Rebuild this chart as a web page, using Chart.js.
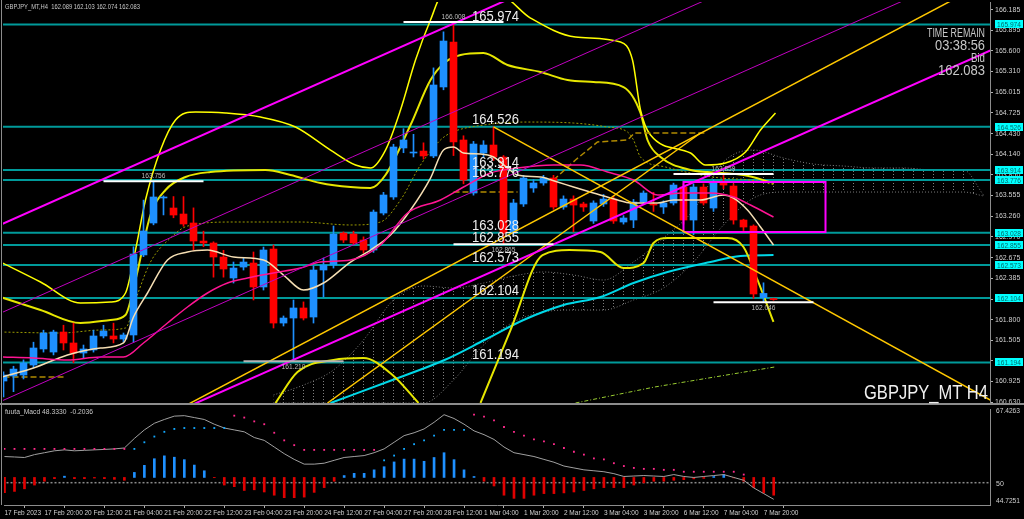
<!DOCTYPE html>
<html>
<head>
<meta charset="utf-8">
<script src="https://cdn.jsdelivr.net/npm/chart.js@4.4.0/dist/chart.umd.min.js"></script>
<style>
html, body { margin: 0; padding: 0; background: #000; }
#wrap { position: relative; width: 1024px; height: 519px; background: #000; overflow: hidden; }
canvas { position: absolute; left: 0; }
#main { top: 0; }
#sub { top: 405px; }
</style>
</head>
<body>
<div id="wrap">
<canvas id="main" width="1024" height="405"></canvas>
<canvas id="sub" width="1024" height="114"></canvas>
</div>
<script>
// price window and scale labels
const priceMin = 160.620;
const priceMax = 166.292;
const priceTicks = [166.185, 165.895, 165.600, 165.310, 165.015, 164.725, 164.430, 164.140, 163.850, 163.555,
  163.260, 162.970, 162.675, 162.385, 162.090, 161.800, 161.505, 161.215, 160.925, 160.630];
const levelPrices = [165.974, 164.526, 163.914, 163.776, 163.028, 162.855, 162.573, 162.104, 161.194];

const dateBars = [0, 4, 8, 12, 16, 20, 24, 28, 32, 36, 40, 44, 48, 52, 56, 60, 64, 68, 72, 76];
const dateLabels = ['17 Feb 2023', '17 Feb 20:00', '20 Feb 12:00', '21 Feb 04:00', '21 Feb 20:00', '22 Feb 12:00',
  '23 Feb 04:00', '23 Feb 20:00', '24 Feb 12:00', '27 Feb 04:00', '27 Feb 20:00', '28 Feb 12:00', '1 Mar 04:00',
  '1 Mar 20:00', '2 Mar 12:00', '3 Mar 04:00', '3 Mar 20:00', '6 Mar 12:00', '7 Mar 04:00', '7 Mar 20:00'];

// H4 candles, 17 Feb 04:00 .. 8 Mar 00:00
const opens = [160.931, 161.002, 161.016, 161.157, 161.384, 161.341, 161.624, 161.469, 161.327, 161.370,
  161.568, 161.568, 161.525, 161.582, 162.714, 163.166, 163.520, 163.378, 163.293, 163.166,
  162.911, 162.883, 162.685, 162.388, 162.543, 162.600, 162.261, 162.798, 161.751, 161.822,
  161.964, 161.836, 162.501, 162.572, 163.024, 163.010, 162.925, 162.784, 163.307, 163.534,
  164.227, 164.156, 164.184, 164.114, 165.090, 165.726, 164.340, 163.590, 164.156, 164.269,
  164.099, 163.024, 163.435, 163.661, 163.732, 163.802, 163.392, 163.505, 163.435, 163.194,
  163.435, 163.505, 163.180, 163.208, 163.463, 163.435, 163.392, 163.449, 163.675, 163.208,
  163.675, 163.378, 163.746, 163.689, 163.208, 163.123, 162.110, 162.089];
const highs = [161.060, 161.140, 161.230, 161.480, 161.650, 161.650, 161.720, 161.750, 161.440, 161.650,
  161.720, 161.750, 161.610, 162.830, 163.490, 163.756, 163.550, 163.540, 163.540, 163.380,
  163.050, 162.900, 162.780, 162.614, 162.671, 162.756, 162.826, 162.855, 161.851, 162.077,
  162.050, 162.558, 162.671, 163.123, 163.040, 163.050, 162.970, 163.350, 163.600, 164.280,
  164.500, 164.420, 164.300, 165.360, 165.870, 166.008, 164.400, 164.320, 164.330, 164.526,
  164.120, 163.500, 163.840, 163.780, 163.840, 163.840, 163.550, 163.550, 163.460, 163.480,
  163.570, 163.550, 163.270, 163.500, 163.620, 163.600, 163.480, 163.730, 163.720, 163.720,
  163.720, 163.780, 163.859, 163.720, 163.220, 163.140, 162.320, 162.103];
const lows = [160.705, 160.780, 160.960, 161.120, 161.340, 161.300, 161.370, 161.190, 161.260, 161.340,
  161.540, 161.470, 161.480, 161.480, 162.690, 163.140, 163.280, 163.240, 163.120, 162.780,
  162.830, 162.400, 162.400, 162.317, 162.501, 162.077, 162.218, 161.681, 161.709, 161.210,
  161.794, 161.751, 162.119, 162.529, 162.890, 162.860, 162.740, 162.750, 163.280, 163.500,
  164.160, 164.100, 164.070, 164.090, 165.050, 164.120, 163.720, 163.560, 164.100, 164.050,
  162.865, 162.990, 163.400, 163.600, 163.700, 163.360, 163.360, 163.040, 163.330, 163.160,
  163.400, 163.160, 163.150, 163.100, 163.440, 163.330, 163.300, 163.420, 163.150, 163.000,
  163.420, 163.330, 163.650, 163.150, 163.060, 162.100, 162.046, 162.074];
const closes = [161.016, 161.100, 161.186, 161.398, 161.610, 161.624, 161.469, 161.327, 161.384, 161.568,
  161.638, 161.525, 161.582, 162.727, 163.053, 163.534, 163.534, 163.279, 163.152, 162.911,
  162.883, 162.685, 162.515, 162.529, 162.614, 162.261, 162.784, 161.751, 161.822, 161.964,
  161.822, 162.501, 162.572, 163.010, 162.925, 162.883, 162.784, 163.321, 163.562, 164.241,
  164.340, 164.170, 164.114, 165.118, 165.740, 164.312, 163.774, 164.283, 164.269, 164.099,
  163.024, 163.449, 163.802, 163.732, 163.802, 163.392, 163.505, 163.420, 163.392, 163.449,
  163.505, 163.194, 163.237, 163.463, 163.590, 163.420, 163.449, 163.703, 163.208, 163.675,
  163.449, 163.732, 163.703, 163.208, 163.109, 162.162, 162.170, 162.083];

// swing high / low marks
const pivotBars = [15, 45, 29, 50, 72, 76];
const pivotPrices = [163.756, 166.008, 161.210, 162.865, 163.859, 162.046];
const pivotKinds = ['high', 'high', 'low', 'low', 'high', 'low'];

// trend lines as [bar, price] anchors
const channelTop = [[-2, 163.034], [60, 166.928]];
const channelMid1 = [[-2, 161.784], [80, 166.934]];
const channelMid2 = [[-2, 160.534], [100, 166.940]];
const channelLow = [[15, 160.352], [100, 165.690]];
const goldUp1 = [[15, 160.343], [95, 166.327]];
const goldUp2 = [[32.4, 160.620], [69.7, 164.439]];
const goldDown = [[49, 164.526], [100, 160.558]];
const boxBars = [68, 82.2];
const boxPrices = [163.039, 163.746];

// indicator curves as [bar, price]
const maWhite = [[-0.1, 160.988], [3, 161.115], [6.4, 161.299], [9.7, 161.398], [12, 161.469], [13, 161.836],
  [14.4, 162.176], [16.4, 162.643], [18.4, 162.756], [20.4, 162.784], [23, 162.685], [26, 162.643], [28, 162.430],
  [30, 162.218], [32, 162.317], [34.7, 162.614], [36.7, 162.784], [38.7, 162.996], [40.7, 163.350], [42.7, 163.802],
  [44, 164.198], [45, 164.241], [46, 164.156], [47.7, 164.142], [49, 164.099], [50.4, 163.944], [51.4, 163.845],
  [53.7, 163.817], [55.4, 163.746], [57, 163.675], [59, 163.590], [61.4, 163.491], [62.7, 163.449], [65.4, 163.449],
  [67, 163.491], [69.7, 163.491], [72, 163.562], [73, 163.519], [74.4, 163.350], [75.7, 163.109], [77, 162.855]];
const maPink = [[-0.1, 161.271], [3, 161.257], [6.4, 161.228], [9.7, 161.271], [12, 161.271], [14, 161.469],
  [16.4, 161.751], [18.4, 161.978], [20.4, 162.176], [22.4, 162.317], [24.4, 162.388], [27, 162.459], [29.7, 162.529],
  [31.7, 162.614], [34.7, 162.643], [37.7, 162.855], [40.4, 163.307], [43.7, 163.491], [46, 163.675], [48.7, 163.873],
  [51.4, 163.944], [55, 163.986], [57.7, 163.986], [60.4, 163.887], [63, 163.774], [65.4, 163.562], [68, 163.590],
  [70.7, 163.590], [73, 163.534], [74.7, 163.420], [77, 163.251]];
const maCyan = [[32.7, 160.620], [38.9, 160.945], [44.1, 161.228], [48.1, 161.511], [52, 161.794], [56, 162.006],
  [59.7, 162.119], [63, 162.317], [66.4, 162.473], [70.7, 162.614], [73.7, 162.699], [77, 162.713]];
const maGreen = [[57.2, 160.620], [65.1, 160.846], [77.1, 161.129]];
const bandUpper3 = [[-0.3, 162.614], [3.7, 162.331], [7.7, 162.034], [10.7, 162.048], [12.2, 162.176], [13.2, 162.784],
  [14.2, 163.491], [15.7, 164.198], [17.2, 164.623], [19.2, 164.736], [22.2, 164.722], [25.7, 164.665], [29.2, 164.524],
  [32.7, 164.198], [35.2, 163.986], [36.7, 163.944], [38.2, 164.198], [39.7, 164.764], [41.2, 165.471], [42.7, 166.037],
  [43.9, 166.391], [49.5, 166.391], [52.7, 166.065], [57.2, 165.797], [61.7, 165.726], [62.9, 165.471], [63.7, 164.764],
  [64.7, 164.411], [68.7, 164.156], [70.2, 163.986], [72.2, 164.014], [74.2, 164.170], [75.7, 164.481], [77.2, 164.722]];
const bandUpper2 = [[-0.3, 162.119], [3.7, 161.935], [7.7, 161.751], [10.7, 161.794], [12.2, 161.865], [13.2, 162.360],
  [14.7, 163.279], [16.2, 163.633], [18.2, 163.817], [20.7, 163.887], [26.2, 163.916], [28.7, 163.845], [31.7, 163.732],
  [34.7, 163.675], [36.7, 163.661], [38.2, 163.845], [40.7, 164.552], [42.7, 165.188], [44.2, 165.443], [45.7, 165.542],
  [48, 165.570], [50.4, 165.401], [53.7, 165.302], [56.4, 165.188], [59, 165.160], [62, 165.089], [63.7, 164.722],
  [64.4, 164.340], [65.7, 164.099], [68.7, 163.916], [70.4, 163.887], [74, 163.845], [77, 163.732]];
const bandUpper1 = [[-0.3, 161.624], [5.7, 161.610], [9.7, 161.652], [12.2, 161.681], [13.2, 162.077], [14.7, 162.614],
  [16.7, 162.954], [18.4, 163.123], [23, 163.180], [29.7, 163.180], [34.7, 163.138], [37.7, 163.180], [39.7, 163.491],
  [41.7, 163.986], [43.7, 164.340], [44.7, 164.439], [48, 164.552], [52.4, 164.594], [57, 164.580], [60.4, 164.524],
  [62.4, 164.453], [63, 164.340], [63.7, 164.099], [66.2, 163.958], [68.7, 163.873], [71.7, 163.802], [74.7, 163.774],
  [77.2, 163.703]];
const bandLower = [[27.2, 160.620], [29.4, 161.058], [33, 161.228], [36, 161.256], [38.9, 161.016], [41.5, 160.620],
  [44, null], [47.7, 160.620], [50.7, 161.652], [53.9, 162.713], [56.6, 162.784], [59.7, 162.756], [62, 162.529],
  [64, 162.600], [65, 162.883], [66.4, 162.954], [69.4, 162.954], [72.4, 162.954], [74, 162.826], [75.4, 162.360],
  [77, 161.766]];
const kijun = [[0, 160.988], [6.2, 160.988], [7, null], [45, 163.604], [51.4, 163.604], [53, null],
  [55, 163.774], [57.2, 164.057], [59.4, 164.312], [62.4, 164.340], [63.1, 164.439], [70.3, 164.439]];

// ichimoku cloud edges
const cloudBars = [27, 30, 33, 36, 39, 42, 45, 48, 51, 54, 57, 60, 63, 66, 69, 72, 75, 78, 81, 84, 87, 90, 93, 96, 98];
const cloudTop = [160.733, 160.874, 161.087, 161.511, 162.077, 162.275, 162.247, 162.317, 162.416, 162.473, 162.430,
  162.360, 162.614, 162.954, 163.350, 164.029, 164.198, 164.085, 164.000, 163.972, 163.944, 163.944, 163.916, 163.916, 163.562];
const cloudBottom = [160.620, 160.620, 160.620, 160.620, 160.620, 160.620, 160.945, 161.440, 161.766, 161.907, 161.935,
  161.935, 162.077, 162.247, 162.614, 163.138, 163.519, 163.604, 163.604, 163.604, 163.604, 163.604, 163.604, 163.604, 163.548];

// fuuta_Macd sub window
const macdMin = 44.7251;
const macdMax = 67.4263;
const macdBase = 51.24;
const macdHist = [47.65, 47.94, 48.55, 49.44, 50.34, 50.95, 51.54, 50.95, 50.95, 51.09, 50.95, 50.79, 50.57,
  52.43, 54.10, 55.67, 56.35, 56.03, 55.45, 54.17, 52.82, 51.18, 49.44, 49.06, 48.16, 48.32, 47.80, 47.04, 46.46,
  46.46, 46.59, 47.71, 48.84, 50.34, 51.69, 52.21, 52.21, 53.04, 53.78, 54.91, 55.58, 55.58, 55.06, 55.96, 57.09,
  55.45, 53.04, 51.47, 50.34, 49.22, 47.04, 46.30, 46.30, 47.04, 47.42, 47.42, 47.58, 47.80, 48.16, 48.55, 48.84,
  48.84, 48.84, 49.44, 49.96, 50.34, 50.34, 50.57, 50.72, 50.90, 51.02, 51.47, 51.92, 51.13, 50.34, 48.84, 47.58, 47.04];
const macdLine = [56.19, 56.08, 55.96, 56.64, 57.09, 57.54, 57.76, 57.54, 57.65, 57.76, 57.87, 57.99, 58.21, 60.46,
  62.48, 64.05, 64.95, 65.74, 65.85, 65.40, 64.95, 63.83, 62.93, 62.48, 62.03, 60.68, 60.01, 58.44, 56.86, 55.51,
  54.39, 54.39, 54.61, 55.29, 55.96, 56.19, 56.41, 57.09, 57.99, 59.56, 61.13, 61.81, 62.71, 64.28, 66.08, 65.18,
  63.83, 62.26, 61.36, 60.23, 58.44, 57.09, 56.64, 56.19, 55.51, 54.84, 53.94, 53.49, 53.04, 52.82, 52.59, 52.14,
  51.47, 51.58, 51.69, 51.58, 51.47, 51.92, 51.47, 51.24, 51.47, 51.69, 51.92, 51.24, 50.57, 48.77, 47.42, 46.07];
const dotsPink = [57.99, 57.99, 57.99, 57.99, 57.99, 57.99, 57.99, 57.99, 57.99, 57.99, 57.99, 57.99, 57.99,
  null, null, null, null, null, null, null, null, null, null,
  65.85, 65.40, 64.50, 63.83, 61.81, 60.01, 58.88, 57.76, 57.76, 57.76, 57.76, 57.76, 57.76, 57.76, 57.76,
  null, null, null, null, null, null, null, null, null,
  66.08, 65.63, 64.73, 63.16, 62.03, 61.13, 60.23, 59.78, 59.11, 58.21, 57.31, 56.64, 55.74, 55.51, 54.61, 53.94,
  53.49, 53.27, 53.27, 53.04, 53.04, 52.59, 52.59, 52.59, 52.59, 52.59, 52.59, 51.92, null, null, null];
const dotsCyan = [null, null, null, null, null, null, null, null, null, null, null, null, null,
  57.99, 59.56, 60.91, 62.03, 62.71, 62.93, 62.93, 62.93, 62.93, 62.93,
  null, null, null, null, null, null, null, null, null, null, null, null, null, null, null,
  55.29, 56.41, 57.99, 59.11, 60.01, 61.13, 62.48, 62.48, 62.48,
  null, null, null, null, null, null, null, null, null, null, null, null, null, null, null, null,
  null, null, null, null, null, null, null, null, null, null, null, null, null, null, null];

const xMin = -0.05;
const xMax = 98.65;
const bull = '#1e90ff';
const bear = '#ff0000';
const txt = '#c8c8c8';
const frame = '#8c8c8c';
const fam = '"Liberation Sans", "DejaVu Sans", sans-serif';

const bars = opens.map((o, i) => i);
const candleColors = bars.map(i => closes[i] >= opens[i] ? bull : bear);
const toPts = arr => arr.map(p => ({ x: p[0], y: p[1] }));

function lineDs(data, color, width, extra) {
  return Object.assign({
    type: 'line', data: toPts(data), borderColor: color, borderWidth: width,
    pointRadius: 0, fill: false, tension: 0, clip: 0, order: 5
  }, extra || {});
}

function fitText(ctx, text, x, y, width, font, color, align) {
  ctx.save();
  ctx.font = font;
  const w = ctx.measureText(text).width;
  const s = Math.min(1, width / w);
  ctx.translate(x, y);
  ctx.scale(s, 1);
  ctx.fillStyle = color;
  ctx.textAlign = align || 'left';
  ctx.textBaseline = 'alphabetic';
  ctx.fillText(text, 0, 0);
  ctx.restore();
}

// vertical dotted hatch, one stroke per bar, used to fill the cloud
const hatch = (() => {
  const c = document.createElement('canvas');
  c.width = 10; c.height = 3;
  const g = c.getContext('2d');
  g.fillStyle = '#808080';
  g.fillRect(0, 0, 1, 1);
  const p = g.createPattern(c, 'repeat');
  p.setTransform(new DOMMatrix().translate(3, 0));
  return p;
})();

const datasets = [];
// cloud: upper edge filled down to the lower edge
datasets.push(lineDs(cloudBars.map((b, k) => [b, cloudTop[k]]), '#7a7a7a', 1,
  { order: 10, borderDash: [1, 2], cubicInterpolationMode: 'monotone', fill: '+1', backgroundColor: hatch }));
datasets.push(lineDs(cloudBars.map((b, k) => [b, cloudBottom[k]]), '#7a7a7a', 1,
  { order: 10, borderDash: [1, 2], cubicInterpolationMode: 'monotone' }));
// horizontal levels
levelPrices.forEach(p => datasets.push(lineDs([[-1, p], [100, p]], '#009a9a', 2, { order: 9 })));
// bands and averages
datasets.push(lineDs(bandUpper1, '#9a9a00', 1, { order: 8, borderDash: [2, 2], cubicInterpolationMode: 'monotone' }));
datasets.push(lineDs(kijun, '#b08a00', 1.5, { order: 8, borderDash: [6, 3] }));
datasets.push(lineDs(bandUpper3, '#ffff00', 1.5, { order: 8, cubicInterpolationMode: 'monotone' }));
datasets.push(lineDs(bandUpper2, '#e6e600', 2, { order: 8, cubicInterpolationMode: 'monotone' }));
datasets.push(lineDs(bandLower, '#e6e600', 2, { order: 8, cubicInterpolationMode: 'monotone', spanGaps: false }));
datasets.push(lineDs(maCyan, '#00d8e8', 2, { order: 8, cubicInterpolationMode: 'monotone' }));
datasets.push(lineDs(maGreen, '#9acd32', 1, { order: 8, borderDash: [4, 2, 1, 2] }));
// candles
datasets.push({
  type: 'bar', data: bars.map(i => ({ x: i, y: [lows[i], highs[i]] })),
  backgroundColor: candleColors, barThickness: 1, grouped: false, order: 4
});
datasets.push({
  type: 'bar', data: bars.map(i => ({ x: i, y: [opens[i], closes[i]] })),
  backgroundColor: candleColors, barThickness: 7, minBarLength: 1, grouped: false, order: 3
});
datasets.push(lineDs(maPink, '#ff1493', 1.5, { order: 2, cubicInterpolationMode: 'monotone' }));
datasets.push(lineDs(maWhite, '#f5deb3', 1.5, { order: 2, cubicInterpolationMode: 'monotone' }));
// trend lines
datasets.push(lineDs(channelTop, '#ff00ff', 2, { order: 1 }));
datasets.push(lineDs(channelMid1, '#c000c0', 1, { order: 1 }));
datasets.push(lineDs(channelMid2, '#c000c0', 1, { order: 1 }));
datasets.push(lineDs(channelLow, '#ff00ff', 2, { order: 1 }));
datasets.push(lineDs(goldUp1, '#ffc800', 1.5, { order: 1 }));
datasets.push(lineDs(goldUp2, '#ffc800', 1.5, { order: 1 }));
datasets.push(lineDs(goldDown, '#ffc800', 1.5, { order: 1 }));
// rectangle
datasets.push(lineDs([[boxBars[0], boxPrices[0]], [boxBars[1], boxPrices[0]], [boxBars[1], boxPrices[1]],
  [boxBars[0], boxPrices[1]], [boxBars[0], boxPrices[0]]], '#ff00ff', 2, { order: 1 }));
// swing marks
pivotBars.forEach((b, k) => datasets.push(lineDs([[b - 5, pivotPrices[k]], [b + 5, pivotPrices[k]]],
  k === 2 ? '#b4b4b4' : '#ffffff', 2, { order: 0 })));

const mainDeco = {
  id: 'mainDeco',
  afterDatasetsDraw(chart) {
    const { ctx, scales: { x, y } } = chart;
    levelPrices.forEach(p => {
      fitText(ctx, p.toFixed(3), 472, y.getPixelForValue(p) - 3, 47, '14px ' + fam, '#ececec', 'left');
    });
    pivotBars.forEach((b, k) => {
      const py = y.getPixelForValue(pivotPrices[k]);
      const ty = pivotKinds[k] === 'high' ? py - 3 : py + 8;
      fitText(ctx, pivotPrices[k].toFixed(3), x.getPixelForValue(b), ty, 24, '7px ' + fam, '#bdbdbd', 'center');
    });
  },
  afterDraw(chart) {
    const { ctx, scales: { y } } = chart;
    ctx.save();
    ctx.fillStyle = frame;
    ctx.fillRect(1, 0, 1, 405);
    ctx.fillRect(0, 403, 1024, 2);
    ctx.restore();
    // axis value boxes
    levelPrices.forEach(p => {
      const py = Math.round(y.getPixelForValue(p));
      ctx.fillStyle = '#00ffff';
      ctx.fillRect(995, py - 4, 28, 8);
      fitText(ctx, p.toFixed(3), 997, py + 3, 24, '7px ' + fam, '#006a6a', 'left');
    });
    fitText(ctx, 'GBPJPY_MT,H4  162.089 162.103 162.074 162.083', 5, 9, 135, '8px ' + fam, txt, 'left');
    fitText(ctx, 'TIME REMAIN', 985, 37, 58, '12px ' + fam, txt, 'right');
    fitText(ctx, '03:38:56', 985, 50, 50, '15px ' + fam, txt, 'right');
    fitText(ctx, 'Bid', 985, 62, 14, '12px ' + fam, txt, 'right');
    fitText(ctx, '162.083', 985, 75, 47, '15px ' + fam, txt, 'right');
    fitText(ctx, 'GBPJPY_MT H4', 988, 399, 124, '21px ' + fam, '#f0f0f0', 'right');
  }
};

new Chart(document.getElementById('main'), {
  type: 'bar',
  data: { datasets },
  options: {
    responsive: false, animation: false, devicePixelRatio: 1, events: [],
    layout: { padding: { left: 3, right: 0, top: 2, bottom: 2 } },
    plugins: { legend: { display: false }, tooltip: { enabled: false } },
    scales: {
      x: { type: 'linear', min: xMin, max: xMax, offset: false, display: false },
      y: {
        type: 'linear', position: 'right', min: priceMin, max: priceMax,
        afterBuildTicks: s => { s.ticks = priceTicks.map(v => ({ value: v })); },
        afterFit: s => { s.width = 34; s.paddingTop = 0; s.paddingBottom = 0; },
        grid: { drawOnChartArea: false, drawTicks: true, tickLength: 3, color: '#b0b0b0' },
        border: { display: true, color: frame, width: 1 },
        ticks: { autoSkip: false, color: '#d0d0d0', padding: 2, font: { size: 7, family: fam },
          callback: v => v.toFixed(3) }
      }
    }
  },
  plugins: [mainDeco]
});

// sub window
const subSets = [
  lineDs([[-1, 50], [100, 50]], '#8a8a8a', 1.5, { borderDash: [2, 2], order: 6 }),
  {
    type: 'bar', data: bars.map(i => ({ x: i, y: [macdBase, macdHist[i]] })),
    backgroundColor: bars.map(i => macdHist[i] >= macdBase ? bull : '#e00000'),
    barThickness: 2, grouped: false, order: 5
  },
  lineDs(macdLine.map((v, i) => [i, v]), '#a0a0a0', 1, { order: 3 }),
  {
    type: 'line', data: bars.map(i => ({ x: i, y: dotsPink[i] })), showLine: false,
    pointRadius: 1.3, pointStyle: 'rect', pointBackgroundColor: '#ff2a8c', pointBorderWidth: 0, order: 2
  },
  {
    type: 'line', data: bars.map(i => ({ x: i, y: dotsCyan[i] })), showLine: false,
    pointRadius: 1.3, pointStyle: 'rect', pointBackgroundColor: '#12a8ff', pointBorderWidth: 0, order: 2
  }
];

const subDeco = {
  id: 'subDeco',
  afterDraw(chart) {
    const { ctx, chartArea: a, scales: { y } } = chart;
    ctx.save();
    ctx.fillStyle = frame;
    ctx.fillRect(1, 0, 1, a.bottom);
    ctx.restore();
    fitText(ctx, 'fuuta_Macd 48.3330  -0.2036', 5, 9, 88, '8px ' + fam, txt, 'left');
    fitText(ctx, macdMax.toFixed(4), 996, 8, 24, '7px ' + fam, '#d0d0d0', 'left');
    fitText(ctx, '50', 996, y.getPixelForValue(50) + 3, 10, '7px ' + fam, '#d0d0d0', 'left');
    fitText(ctx, macdMin.toFixed(4), 996, a.bottom - 2, 24, '7px ' + fam, '#d0d0d0', 'left');
  }
};

new Chart(document.getElementById('sub'), {
  type: 'bar',
  data: { datasets: subSets },
  options: {
    responsive: false, animation: false, devicePixelRatio: 1, events: [],
    layout: { padding: { left: 3, right: 0, top: 0, bottom: 0 } },
    plugins: { legend: { display: false }, tooltip: { enabled: false } },
    scales: {
      x: {
        type: 'linear', min: xMin, max: xMax, offset: false,
        afterBuildTicks: s => { s.ticks = dateBars.map(v => ({ value: v })); },
        afterFit: s => { s.height = 14; s.paddingLeft = 0; s.paddingRight = 0; },
        grid: { drawOnChartArea: false, drawTicks: true, tickLength: 3, color: '#b0b0b0' },
        border: { display: true, color: frame, width: 1 },
        ticks: { autoSkip: false, maxRotation: 0, align: 'start', padding: 1, color: '#d0d0d0',
          font: { size: 6.5, family: fam }, callback: (v, idx) => dateLabels[idx] }
      },
      y: {
        type: 'linear', position: 'right', min: macdMin, max: macdMax,
        afterFit: s => { s.width = 34; s.paddingTop = 0; s.paddingBottom = 0; },
        grid: { display: false },
        border: { display: true, color: frame, width: 1 },
        ticks: { display: false }
      }
    }
  },
  plugins: [subDeco]
});
</script>
</body>
</html>
